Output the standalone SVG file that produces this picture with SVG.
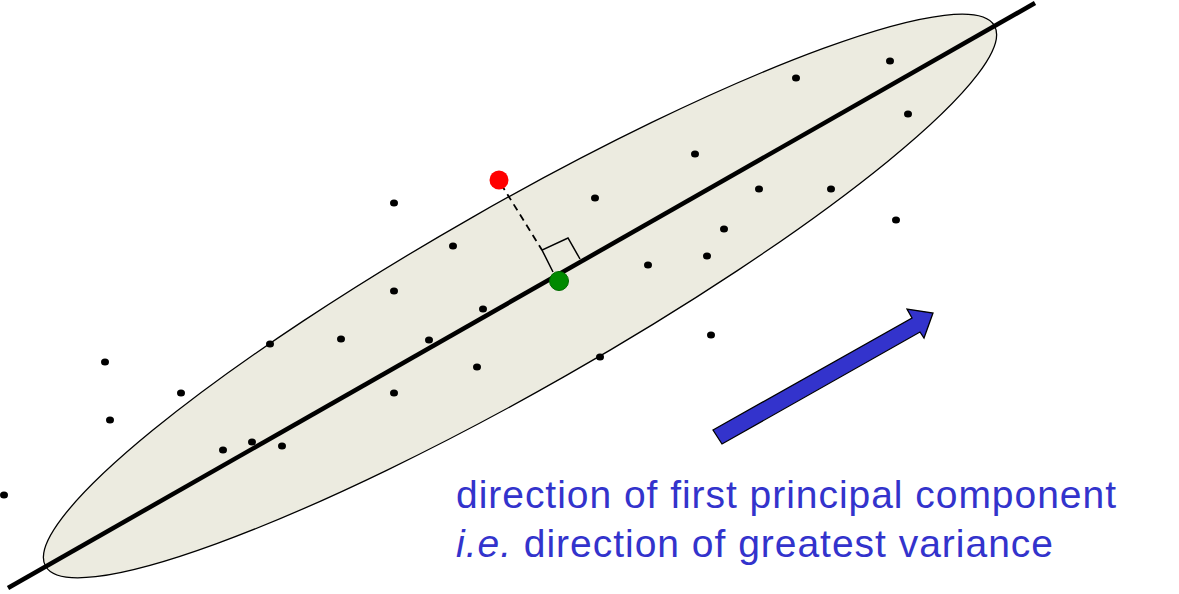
<svg xmlns="http://www.w3.org/2000/svg" width="1179" height="594" viewBox="0 0 1179 594">
<style>
.dot{fill:#000}
.lbl{font-family:"Liberation Sans",Arial,sans-serif;font-size:39px;fill:#3333cc}
</style>
<rect width="1179" height="594" fill="#fff"/>
<g id="ellipse">
<ellipse cx="520" cy="296" rx="546" ry="92" transform="rotate(-29.67 520 296)" fill="#ecebe0" stroke="#000" stroke-width="1.3"/>
</g>
<g id="points">
<ellipse class="dot" cx="890" cy="61" rx="4" ry="3.5"/>
<ellipse class="dot" cx="796" cy="78" rx="4" ry="3.5"/>
<ellipse class="dot" cx="908" cy="114" rx="4" ry="3.5"/>
<ellipse class="dot" cx="695" cy="154" rx="4" ry="3.5"/>
<ellipse class="dot" cx="759" cy="189" rx="4" ry="3.5"/>
<ellipse class="dot" cx="831" cy="189" rx="4" ry="3.5"/>
<ellipse class="dot" cx="595" cy="198" rx="4" ry="3.5"/>
<ellipse class="dot" cx="394" cy="203" rx="4" ry="3.5"/>
<ellipse class="dot" cx="896" cy="220" rx="4" ry="3.5"/>
<ellipse class="dot" cx="724" cy="229" rx="4" ry="3.5"/>
<ellipse class="dot" cx="453" cy="246" rx="4" ry="3.5"/>
<ellipse class="dot" cx="707" cy="256" rx="4" ry="3.5"/>
<ellipse class="dot" cx="648" cy="265" rx="4" ry="3.5"/>
<ellipse class="dot" cx="394" cy="291" rx="4" ry="3.5"/>
<ellipse class="dot" cx="483" cy="309" rx="4" ry="3.5"/>
<ellipse class="dot" cx="341" cy="339" rx="4" ry="3.5"/>
<ellipse class="dot" cx="429" cy="340" rx="4" ry="3.5"/>
<ellipse class="dot" cx="270" cy="344" rx="4" ry="3.5"/>
<ellipse class="dot" cx="711" cy="335" rx="4" ry="3.5"/>
<ellipse class="dot" cx="600" cy="357" rx="4" ry="3.5"/>
<ellipse class="dot" cx="105" cy="362" rx="4" ry="3.5"/>
<ellipse class="dot" cx="477" cy="367" rx="4" ry="3.5"/>
<ellipse class="dot" cx="181" cy="393" rx="4" ry="3.5"/>
<ellipse class="dot" cx="394" cy="393" rx="4" ry="3.5"/>
<ellipse class="dot" cx="110" cy="420" rx="4" ry="3.5"/>
<ellipse class="dot" cx="252" cy="442" rx="4" ry="3.5"/>
<ellipse class="dot" cx="223" cy="450" rx="4" ry="3.5"/>
<ellipse class="dot" cx="282" cy="446" rx="4" ry="3.5"/>
<ellipse class="dot" cx="4" cy="495" rx="4" ry="3.5"/>
</g>
<g id="connectors">
<line id="axis" x1="8" y1="588" x2="1035" y2="3" stroke="#000" stroke-width="4.5"/>
<line id="projection" x1="501" y1="184" x2="542" y2="250" stroke="#000" stroke-width="1.8" stroke-dasharray="7,5"/>
<polyline id="right-angle" points="553,272 542,250 568,238 580,259" fill="none" stroke="#000" stroke-width="1.5"/>
</g>
<g id="red-point">
<circle cx="499" cy="180" r="9.5" fill="#ff0000"/>
</g>
<g id="green-point">
<circle cx="559" cy="281" r="9.5" fill="#008a00" stroke="#006a00" stroke-width="1"/>
</g>
<g id="arrow">
<polygon points="713,430 912,318 907,309 933,313 924,338 920,332 722,444" fill="#3333cc" stroke="#000" stroke-width="1.3" stroke-linejoin="miter"/>
</g>
<g id="label">
<text class="lbl" x="456" y="508" textLength="660" lengthAdjust="spacing">direction of first principal component</text>
<text class="lbl" x="456" y="557" textLength="597" lengthAdjust="spacing"><tspan font-style="italic">i.e.</tspan> direction of greatest variance</text>
</g>
</svg>
